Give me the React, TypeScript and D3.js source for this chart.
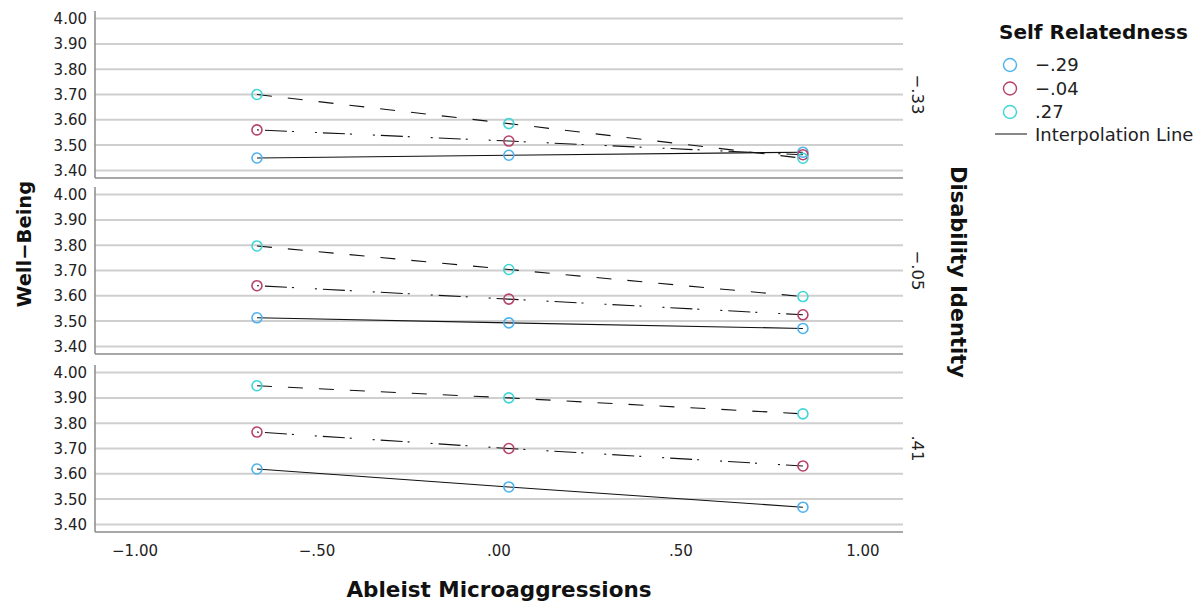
import React from "react";
import * as d3 from "d3";

// levels of the moderators
const identityLevels = ["-.33", "-.05", ".41"];
const relatedLevels = ["-.29", "-.04", ".27"];
const relatedColours = ["#4db2f0", "#b8416c", "#3fd6d6"];
const relatedDash = ["none", "2,6,22,5,2,21", "15,16"];

// x positions of the three microaggression levels
const microLevels = [-0.665, 0.027, 0.835];

// well-being per identity panel (rows) at each micro level
const wellBeingLow = [
  [3.449, 3.46, 3.472],
  [3.513, 3.493, 3.471],
  [3.619, 3.548, 3.468],
];
const wellBeingMid = [
  [3.56, 3.516, 3.462],
  [3.64, 3.587, 3.525],
  [3.765, 3.70, 3.631],
];
const wellBeingHigh = [
  [3.70, 3.585, 3.448],
  [3.797, 3.704, 3.597],
  [3.948, 3.90, 3.837],
];

const yTicks = [3.4, 3.5, 3.6, 3.7, 3.8, 3.9, 4.0];
const xTicks = [-1, -0.5, 0, 0.5, 1];

const W = 1202;
const H = 602;
const left = 95;
const right = 903;
const panelTops = [11, 187, 365];
const panelH = 167;

// SPSS style: 3.40, .50, -1.00
const fmt = (v: number) => {
  let s = d3.format(".2f")(Math.abs(v));
  if (Math.abs(v) < 1) s = s.replace(/^0/, "");
  return (v < 0 ? "\u2212" : "") + s;
};

const App = () => {
  const x = d3.scaleLinear().domain([-1.11, 1.11]).range([left, right]);
  const series = [wellBeingLow, wellBeingMid, wellBeingHigh];
  const font = "'DejaVu Sans', sans-serif";

  return (
    <svg width={W} height={H} style={{ position: "absolute", left: 0, top: 0 }} fontFamily={font}>
      <rect width={W} height={H} fill="#fff" />
      {identityLevels.map((lvl, p) => {
        const top = panelTops[p];
        const y = d3.scaleLinear().domain([3.37, 4.03]).range([top + panelH, top]);
        const line = d3
          .line<number>()
          .x((_, i) => x(microLevels[i]))
          .y((d) => y(d));
        return (
          <g key={lvl}>
            {yTicks.map((t) => (
              <g key={t}>
                <line x1={left} x2={right} y1={y(t)} y2={y(t)} stroke="#cfcfcf" strokeWidth={2} />
                <text x={87} y={y(t)} dy="0.36em" textAnchor="end" fontSize={15} fill="#222">
                  {fmt(t)}
                </text>
              </g>
            ))}
            <line x1={left} x2={left} y1={top} y2={top + panelH} stroke="#8a8a8a" strokeWidth={1.5} />
            <line x1={left} x2={right} y1={top + panelH} y2={top + panelH} stroke="#8a8a8a" strokeWidth={1.5} />
            {series.map((s, k) => (
              <path
                key={"l" + k}
                d={line(s[p]) || ""}
                fill="none"
                stroke="#111"
                strokeWidth={1.1}
                strokeDasharray={relatedDash[k]}
              />
            ))}
            {series.map((s, k) =>
              s[p].map((v, i) => (
                <circle
                  key={"c" + k + i}
                  cx={x(microLevels[i])}
                  cy={y(v)}
                  r={5}
                  fill="none"
                  stroke={relatedColours[k]}
                  strokeWidth={1.6}
                />
              ))
            )}
            <text
              transform={`translate(918,${top + panelH / 2}) rotate(90)`}
              textAnchor="middle"
              dy="0.35em"
              fontSize={16.5}
              fill="#222"
            >
              {lvl.replace("-", "\u2212")}
            </text>
          </g>
        );
      })}
      {xTicks.map((t) => (
        <text key={t} x={x(t)} y={556} textAnchor="middle" fontSize={15} fill="#222">
          {fmt(t)}
        </text>
      ))}
      <text x={499} y={597} textAnchor="middle" fontSize={21.5} fontWeight="bold" fill="#111">
        Ableist Microaggressions
      </text>
      <text transform="translate(31,244) rotate(-90)" textAnchor="middle" fontSize={19.5} fontWeight="bold" fill="#111">
        Well{"\u2212"}Being
      </text>
      <text transform="translate(951,272) rotate(90)" textAnchor="middle" fontSize={21} fontWeight="bold" fill="#111">
        Disability Identity
      </text>
      <g>
        <text x={999} y={39} fontSize={20} fontWeight="bold" fill="#111">
          Self Relatedness
        </text>
        {relatedLevels.map((lvl, k) => (
          <g key={lvl}>
            <circle cx={1010} cy={65 + k * 23.5} r={6.5} fill="none" stroke={relatedColours[k]} strokeWidth={1.4} />
            <text x={1035} y={65 + k * 23.5} dy="0.36em" fontSize={18} fill="#222">
              {lvl.replace("-", "\u2212")}
            </text>
          </g>
        ))}
        <line x1={995} x2={1027} y1={134} y2={134} stroke="#111" strokeWidth={1} />
        <text x={1035} y={135} dy="0.36em" fontSize={18} fill="#222">
          Interpolation Line
        </text>
      </g>
    </svg>
  );
};

export default App;
